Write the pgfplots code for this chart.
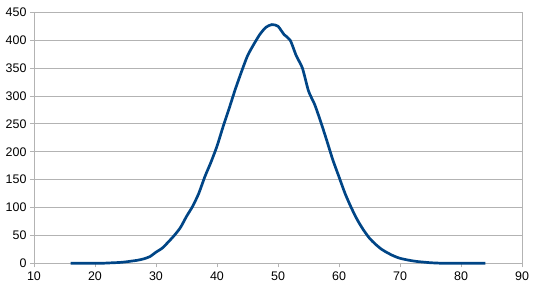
\documentclass[border=0pt]{standalone}
\usepackage{fontspec}
\setmainfont{Liberation Sans}
\usepackage{pgfplots}
\pgfplotsset{compat=1.18}
\definecolor{lblue}{HTML}{004586}
\definecolor{gridc}{HTML}{B3B3B3}
\begin{document}
\begin{tikzpicture}
\begin{axis}[
  name=ax,
  scale only axis,
  width=488bp, height=251bp,
  xmin=10, xmax=90, ymin=0, ymax=450,
  xtick={10,20,...,90},
  ytick={0,50,...,450},
  ymajorgrids,
  grid style={gridc, line width=0.8pt},
  axis line style={gridc, line width=0.8pt},
  tick style={gridc, line width=0.8pt},
  tick align=outside,
  major tick length=4bp,
  xtick pos=bottom, ytick pos=left,
  /pgf/number format/assume math mode=true,
  tick label style={font=\fontsize{12.5}{14}\selectfont, black},
  xticklabel style={yshift=-1bp},
  clip=false,
]
\addplot[lblue, line width=2.7pt, smooth, tension=0.4] coordinates {
(16,0)(17,0)(18,0)(19,0)(20,0)(21,0)(22,0.5)(23,1)(24,1.5)(25,2.5)
(26,4)(27,5.5)(28,8)(29,12)(30,20)(31,27)(32,38)(33,50)(34,64)(35,84)
(36,102)(37,125)(38,155)(39,181)(40,210)(41,245)(42,278)(43,312)(44,343)(45,372)
(46,392)(47,410)(48,423)(49,428)(50,425)(51,410)(52,400)(53,372)(54,350)(55,309)
(56,285)(57,254)(58,220)(59,185)(60,155)(61,125)(62,100)(63,78)(64,60)(65,45)
(66,34)(67,25)(68,18.5)(69,13)(70,9)(71,6.5)(72,4.5)(73,3)(74,2)(75,1)
(76,0.5)(77,0)(78,0)(79,0)(80,0)(81,0)(82,0)(83,0)(84,0)
};
\end{axis}
\path (ax.south west) ++(-34bp,-26.7bp) coordinate (bbl);
\path (ax.north east) ++(12bp,12.3bp) coordinate (bbr);
\path (bbl) rectangle (bbr);
\end{tikzpicture}
\end{document}
